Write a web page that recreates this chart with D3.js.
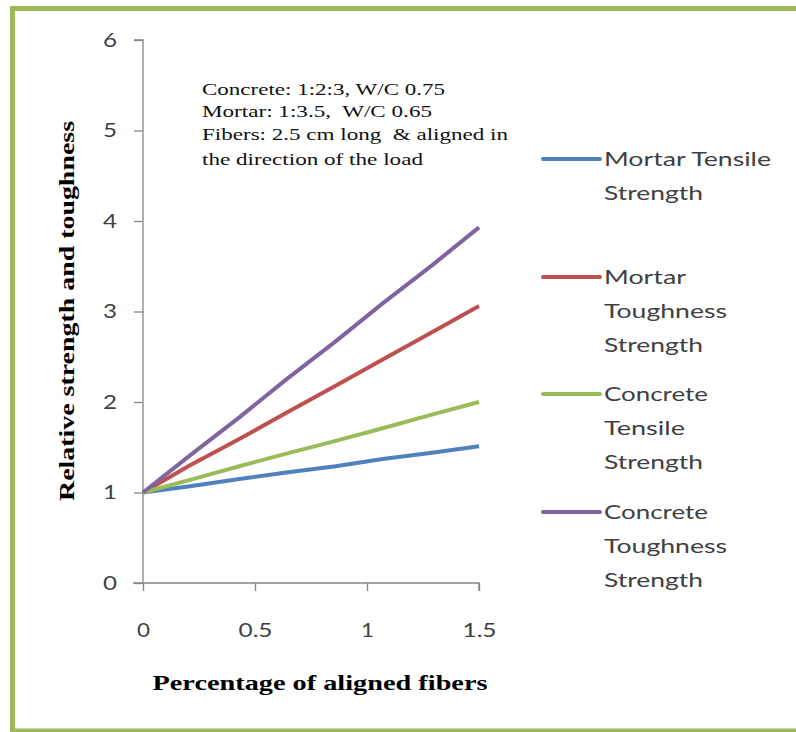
<!DOCTYPE html>
<html>
<head>
<meta charset="utf-8">
<script src="https://cdn.jsdelivr.net/npm/d3@7"></script>
<style>
  html, body { margin: 0; padding: 0; background: #fff; }
  svg { display: block; }
  svg text { white-space: pre; }
</style>
</head>
<body>
<svg id="chart" width="796" height="732"></svg>
<script>
// Fiber content (%) at which each series is sampled
const fiberPct = [0, 0.21, 0.43, 0.64, 0.86, 1.07, 1.29, 1.5];

// Relative strength / toughness values for each series
const mortarTensile   = [1, 1.07, 1.15, 1.22, 1.29, 1.37, 1.44, 1.51];
const mortarTough     = [1, 1.30, 1.59, 1.88, 2.18, 2.47, 2.77, 3.06];
const concreteTensile = [1, 1.14, 1.29, 1.43, 1.57, 1.71, 1.86, 2.00];
const concreteTough   = [1, 1.41, 1.83, 2.25, 2.67, 3.09, 3.51, 3.93];

const seriesNames = [
  ["Mortar Tensile", "Strength"],
  ["Mortar", "Toughness", "Strength"],
  ["Concrete", "Tensile", "Strength"],
  ["Concrete", "Toughness", "Strength"]
];
const seriesValues = [mortarTensile, mortarTough, concreteTensile, concreteTough];
const seriesColors = ["#4F81BD", "#C0504D", "#9BBB59", "#8064A2"];

const xTicks = [0, 0.5, 1, 1.5];
const yTicks = [0, 1, 2, 3, 4, 5, 6];

const noteLines = [
  "Concrete: 1:2:3, W/C 0.75",
  "Mortar: 1:3.5,  W/C 0.65",
  "Fibers: 2.5 cm long  & aligned in",
  "the direction of the load"
];

const svg = d3.select("#chart");

// stretch a text element to a given width
function fit(sel, w) {
  sel.attr("textLength", w).attr("lengthAdjust", "spacingAndGlyphs");
}

// outer frame
svg.append("rect")
  .attr("x", 12.5).attr("y", 8.5)
  .attr("width", 800).attr("height", 722.5)
  .attr("fill", "none")
  .attr("stroke", "#9BBB59")
  .attr("stroke-width", 5);

const x = d3.scaleLinear().domain([0, 1.5]).range([143, 479]);
const y = d3.scaleLinear().domain([0, 6]).range([583, 40]);

const axisColor = "#868686";
const tickFont = "Lato, 'Liberation Sans', sans-serif";

// y axis
const gy = svg.append("g")
  .attr("transform", `translate(${x(0)},0)`)
  .call(d3.axisLeft(y).tickValues(yTicks).tickSize(9).tickPadding(17).tickFormat(d3.format("d")));
gy.select(".domain").attr("stroke", axisColor).attr("stroke-width", 1.3)
  .attr("d", `M-9,${y(6)}H0V${y(0)}`);
gy.selectAll(".tick line").attr("stroke", axisColor).attr("stroke-width", 1.3);
gy.selectAll(".tick text")
  .attr("fill", "#404040").attr("font-family", tickFont).attr("font-size", 20)
  .each(function () { fit(d3.select(this), 14); });

// x axis
const gx = svg.append("g")
  .attr("transform", `translate(0,${y(0)})`)
  .call(d3.axisBottom(x).tickValues(xTicks).tickSize(8).tickPadding(40).tickFormat(d => d3.format("")(d)));
gx.select(".domain").attr("stroke", axisColor).attr("stroke-width", 1.3)
  .attr("d", `M${x(0) - 10},0H${x(1.5)}V8`);
gx.selectAll(".tick line").attr("stroke", axisColor).attr("stroke-width", 1.3);
gx.selectAll(".tick text")
  .attr("fill", "#404040").attr("font-family", tickFont).attr("font-size", 20)
  .attr("dy", "0.32em")
  .each(function (d) { fit(d3.select(this), String(d).length > 1 ? 34 : 13); });

// series lines
const line = d3.line()
  .x((d, i) => x(fiberPct[i]))
  .y(d => y(d));

seriesValues.forEach((vals, k) => {
  svg.append("path")
    .datum(vals)
    .attr("fill", "none")
    .attr("stroke", seriesColors[k])
    .attr("stroke-width", 4)
    .attr("stroke-linejoin", "round")
    .attr("d", line);
});

// annotation box text
const noteY = [95, 117, 140, 165];
const noteW = [243, 230, 306, 221];
noteLines.forEach((t, i) => {
  svg.append("text")
    .attr("x", 202).attr("y", noteY[i])
    .attr("font-family", "'Liberation Serif', 'Times New Roman', serif")
    .attr("font-size", 17.5)
    .attr("fill", "#111")
    .text(t)
    .call(fit, noteW[i]);
});

// legend
const legendLineY = [159, 277, 394, 512];
const wordWidth = {
  "Mortar Tensile": 167, "Strength": 99, "Mortar": 82,
  "Toughness": 123, "Concrete": 104, "Tensile": 81
};
seriesNames.forEach((lines, k) => {
  const ly = legendLineY[k];
  svg.append("line")
    .attr("x1", 543).attr("x2", 600)
    .attr("y1", ly).attr("y2", ly)
    .attr("stroke", seriesColors[k])
    .attr("stroke-width", 4)
    .attr("stroke-linecap", "round");
  lines.forEach((t, j) => {
    svg.append("text")
      .attr("x", 604).attr("y", ly + 7 + j * 34)
      .attr("font-family", tickFont)
      .attr("font-size", 20)
      .attr("fill", "#404040")
      .text(t)
      .call(fit, wordWidth[t]);
  });
});

// axis titles
svg.append("text")
  .attr("x", 320).attr("y", 690)
  .attr("text-anchor", "middle")
  .attr("font-family", "'Liberation Serif', 'Times New Roman', serif")
  .attr("font-weight", "bold")
  .attr("font-size", 22)
  .attr("fill", "#000")
  .text("Percentage of aligned fibers")
  .call(fit, 335);

svg.append("text")
  .attr("transform", "translate(74,311) rotate(-90)")
  .attr("text-anchor", "middle")
  .attr("font-family", "'Liberation Serif', 'Times New Roman', serif")
  .attr("font-weight", "bold")
  .attr("font-size", 22)
  .attr("fill", "#000")
  .text("Relative strength and toughness")
  .call(fit, 380);
</script>
</body>
</html>
